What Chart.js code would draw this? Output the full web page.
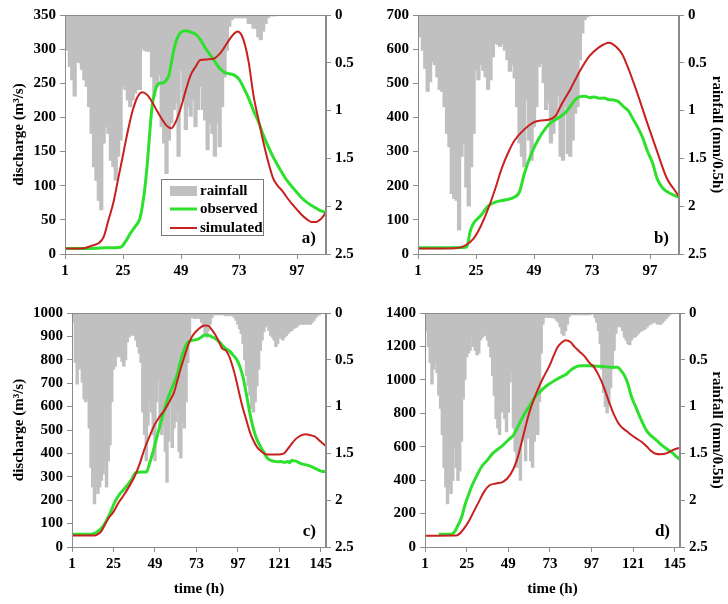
<!DOCTYPE html>
<html>
<head>
<meta charset="utf-8">
<script src="https://cdn.jsdelivr.net/npm/chart.js@4.4.1/dist/chart.umd.min.js"></script>
<style>
body { margin: 0; background: #fff; }
#wrap { position: relative; width: 728px; height: 604px; overflow: hidden; }
canvas { position: absolute; }
</style>
</head>
<body>
<div id="wrap">
  <canvas id="chartA" width="364" height="300" style="left:0;top:0"></canvas>
  <canvas id="chartB" width="364" height="300" style="left:364px;top:0"></canvas>
  <canvas id="chartC" width="364" height="304" style="left:0;top:300px"></canvas>
  <canvas id="chartD" width="364" height="304" style="left:364px;top:300px"></canvas>
</div>
<script>
// tick labels
var timeTicksAB = [1, 25, 49, 73, 97];
var timeTicksCD = [1, 25, 49, 73, 97, 121, 145];
var rainTicks = [0, 0.5, 1, 1.5, 2, 2.5];

// hourly rainfall (mm/0.5h), starting at hour 1
var rainA = [0.12,0.37,0.54,0.68,0.85,0.49,0.5,0.57,0.68,0.75,0.96,1.24,1.59,1.73,1.94,2.04,1.34,1.17,1.24,1.52,
  1.59,1.73,1.48,1.31,0.75,0.78,0.89,0.96,0.89,0.82,0.78,0.78,0.35,0.37,0.38,0.38,0.65,0.85,0.75,0.63,
  1.17,1.34,1.66,1.31,1.13,0.99,0.92,1.48,0.58,0.89,1.2,0.96,1.06,0.89,1.17,0.99,0.75,0.99,1.1,1.41,
  1.13,1.24,1.48,1.13,1.38,0.96,0.65,0.37,0.12,0.05,0.03,0.03,0.03,0.03,0.03,0.03,0.09,0.09,0.14,0.14,
  0.23,0.26,0.17,0.09,0.03,0.01,0.01,0.01];
var rainB = [0.12,0.23,0.37,0.56,0.8,0.7,0.49,0.52,0.65,0.78,0.8,0.96,1.24,1.38,1.87,1.92,1.94,2.25,1.48,1.34,
  1.8,2.0,1.59,1.24,0.58,0.68,0.52,0.58,0.65,0.78,0.68,0.44,0.3,0.31,0.33,0.3,0.37,0.47,0.59,0.52,
  0.66,0.96,1.34,1.48,1.59,0.89,1.31,1.52,1.17,0.96,0.54,0.51,0.71,0.99,0.92,1.34,1.24,1.1,0.85,1.48,
  1.52,0.96,1.45,1.48,1.31,1.03,0.96,0.47,0.19,0.05,0.02,0.01];
var rainC = [0.1,0.1,0.53,0.76,0.6,0.59,0.74,0.92,0.95,0.92,1.23,1.65,1.86,2.04,1.86,1.93,1.86,1.79,1.72,1.65,
  1.86,1.58,1.41,0.95,0.6,0.57,0.47,0.45,0.47,0.52,0.57,0.5,0.31,0.26,0.24,0.22,0.24,0.29,0.36,0.43,
  0.53,1.06,1.3,1.58,1.2,0.95,1.06,1.3,1.58,0.95,0.71,1.23,1.3,1.2,1.48,1.81,1.37,0.95,1.44,1.23,
  1.16,1.06,1.48,1.55,1.16,1.23,0.95,0.53,0.26,0.05,0.04,0.06,0.06,0.05,0.06,0.1,0.15,0.22,0.26,0.19,
  0.12,0.05,0.02,0.02,0.02,0.02,0.02,0.02,0.01,0.03,0.03,0.03,0.03,0.03,0.05,0.08,0.12,0.17,0.22,0.33,
  0.5,0.67,0.78,0.88,1.02,1.06,0.95,0.78,0.6,0.4,0.29,0.2,0.15,0.13,0.19,0.24,0.26,0.29,0.36,0.33,
  0.26,0.27,0.29,0.26,0.24,0.22,0.2,0.19,0.17,0.16,0.15,0.13,0.12,0.12,0.12,0.12,0.12,0.12,0.12,0.1,
  0.08,0.05,0.03,0.02];
var rainD = [0.1,0.19,0.36,0.53,0.76,0.6,0.53,0.64,0.88,1.02,1.3,1.65,1.86,2.04,1.86,1.93,1.79,1.44,1.65,1.79,
  1.69,1.37,0.92,0.71,0.47,0.43,0.4,0.26,0.36,0.4,0.45,0.43,0.29,0.26,0.22,0.24,0.29,0.36,0.47,0.67,
  0.88,1.13,1.23,1.3,1.06,0.95,1.13,1.27,1.06,0.74,0.64,1.23,1.48,1.65,1.48,1.79,1.37,1.3,1.58,1.34,
  1.23,1.58,1.65,1.37,1.16,1.3,0.95,0.43,0.12,0.05,0.03,0.05,0.05,0.05,0.05,0.06,0.08,0.1,0.15,0.22,
  0.24,0.19,0.12,0.04,0.02,0.02,0.02,0.02,0.02,0.02,0.02,0.02,0.02,0.02,0.02,0.02,0.01,0.01,0.05,0.1,
  0.19,0.33,0.6,0.85,1.0,1.07,0.98,0.8,0.6,0.4,0.22,0.15,0.13,0.15,0.19,0.26,0.29,0.33,0.34,0.29,
  0.26,0.26,0.24,0.22,0.2,0.19,0.18,0.17,0.15,0.13,0.12,0.11,0.1,0.1,0.12,0.12,0.12,0.1,0.08,0.06,
  0.04,0.02,0.01];

// discharge (m3/s) as [hour, value]
var obsA = [[1,8],[10,8],[18,9],[24,10],[26,18],[28,30],[30,40],[32,52],[33,70],[34,95],[35,130],[36,175],
  [37,215],[38,235],[39,246],[40,250],[42,251],[43,255],[44,262],[45,280],[46,298],[47,312],[48,320],[49,325],
  [51,327],[53,325],[55,322],[57,314],[59,302],[61,292],[63,282],[65,272],[67,266],[69,264],[71,262],[73,256],
  [75,243],[77,228],[79,210],[81,194],[83,175],[85,158],[87,143],[89,130],[91,118],[93,107],[95,98],[97,90],
  [99,82],[101,76],[103,71],[105,67],[107,63],[109,61]];
var simA = [[1,8],[8,8],[12,12],[15,16],[17,25],[19,50],[21,75],[23,110],[25,145],[27,180],[29,210],[31,230],
  [33,237],[35,233],[37,223],[39,210],[41,198],[43,188],[45,184],[47,195],[49,215],[51,240],[53,262],[55,274],
  [57,284],[60,285],[63,287],[65,293],[67,303],[69,314],[71,323],[72.5,326],[74,321],[75.5,306],[77,281],
  [79,232],[81,198],[83,165],[85,136],[87,112],[89,100],[91,92],[93,82],[95,73],[97,65],[99,57],[101,51],
  [103,47],[105,47],[106.5,50],[108,56],[109,61]];
var obsB = [[1,18],[21,20],[21.8,35],[22.5,64],[24,90],[27,113],[30,140],[33,152],[37,158],[41,167],[43,182],
  [45,235],[48,295],[51,338],[54,370],[56,385],[59,398],[62,414],[64,432],[66,452],[68,461],[70,462],[72,458],
  [74,460],[76,456],[78,457],[80,452],[82,451],[84,446],[86,432],[88,420],[90,395],[92,370],[94,340],[96,300],
  [98,268],[100,220],[102,195],[104,183],[106,175],[108,169],[109,166]];
var simB = [[1,16],[16,17],[19,20],[21,27],[24,45],[27,82],[30,132],[33,192],[35.6,250],[38.4,298],[41,333],
  [45,365],[49,386],[52,391],[55,393],[58,405],[60,433],[64,482],[68,536],[72,580],[76,606],[80,619],[83,607],
  [85.5,585],[87.5,553],[91.6,474],[95.7,387],[100,299],[104,221],[106.8,191],[109,168]];
var obsC = [[1,55],[12,55],[15,62],[18,80],[20,100],[23,144],[26,195],[29,230],[32,255],[35,283],[38,318],
  [41,320],[44,320],[46,360],[48,410],[50,465],[52,522],[54,575],[56,625],[58,665],[60,700],[62,740],[64,800],
  [66,845],[68,875],[70,882],[72,885],[74,888],[76,898],[78,906],[80,905],[82,898],[84,890],[86,878],[88,862],
  [90,848],[92,838],[94,822],[96,805],[98,775],[100,725],[102,650],[104,570],[106,505],[108,460],[110,430],
  [112,405],[114,380],[116,370],[118,366],[120,364],[122,365],[124,362],[126,365],[127,360],[128,370],[130,368],
  [132,362],[134,355],[136,352],[138,348],[140,342],[142,335],[144,328],[146,323],[148,322]];
var simC = [[1,49],[14,49],[16,55],[18,68],[20,95],[22,122],[25,150],[28,190],[31,222],[34,258],[37,298],
  [40,352],[43,420],[46,475],[49,525],[52,560],[55,590],[58,630],[60,660],[62,712],[64,765],[66,812],[68,858],
  [70,893],[72,915],[74,930],[76,942],[78,947],[80,945],[82,928],[84,906],[86,878],[88,848],[90,840],[92,815],
  [94,770],[96,715],[98,650],[100,590],[102,540],[104,490],[106,455],[108,428],[110,412],[112,400],[114,395],
  [118,395],[122,396],[124,402],[126,420],[128,440],[130,458],[132,470],[134,478],[136,482],[138,480],[140,476],
  [142,470],[144,456],[146,443],[148,432]];
var obsD = [[9,76],[16,76],[18,90],[20,130],[22,175],[24,250],[26,310],[28,365],[31,430],[34,486],[37,520],
  [40,560],[43,585],[46,610],[49,640],[52,670],[55,730],[58,790],[61,840],[63,875],[65,905],[67,925],[70,955],
  [73,978],[76,998],[79,1015],[82,1030],[85,1058],[88,1078],[91,1084],[95,1084],[100,1082],[104,1080],
  [108,1075],[112,1075],[114,1055],[116,1025],[118,975],[120,900],[122,850],[125,775],[127,730],[129,692],
  [132,660],[135,633],[138,605],[141,582],[144,560],[146,540],[148,525]];
var simD = [[1,68],[19,69],[21,80],[23,104],[26,150],[29,210],[32,270],[35,330],[38,368],[42,380],[46,390],
  [50,430],[54,520],[57.5,660],[61,800],[64,890],[67,966],[70,1030],[73,1090],[75,1140],[77.4,1195],[80,1225],
  [82.2,1237],[85,1225],[87,1200],[90,1170],[93,1140],[96,1100],[98.5,1075],[101,1030],[104,960],[107,870],
  [110,790],[112,750],[114,720],[117,695],[120,670],[123,648],[126,628],[129,600],[131,578],[134,558],[137,555],
  [140,560],[142,570],[145,585],[148,594]];

var FONT = '"Liberation Serif", "Times New Roman", serif';
var AXIS_GREY = '#8c8c8c';

function toPoints(pairs) {
    return pairs.map(function (p) { return { x: p[0], y: p[1] }; });
}

function rainPoints(values) {
    return values.map(function (v, i) { return { x: i + 1, y: v }; });
}

// frame round the plot area + the panel letter (and the legend in panel a)
var panelDecor = {
    id: 'panelDecor',
    afterDatasetsDraw: function (chart) {
        var a = chart.chartArea, ctx = chart.ctx;
        ctx.save();
        ctx.strokeStyle = AXIS_GREY;
        ctx.lineWidth = 1;
        ctx.strokeRect(a.left + 0.5, a.top + 0.5, a.right - a.left - 1, a.bottom - a.top);
        ctx.restore();
    },
    afterDraw: function (chart, args, opts) {
        var a = chart.chartArea, ctx = chart.ctx;
        ctx.save();
        ctx.fillStyle = '#000';
        ctx.font = 'bold 17px ' + FONT;
        ctx.textAlign = 'right';
        ctx.textBaseline = 'middle';
        ctx.fillText(opts.letter, a.right - 10, a.bottom - 15);
        if (opts.legend) {
            var lx = opts.legend.x, ly = opts.legend.y;
            ctx.fillStyle = '#fff';
            ctx.fillRect(lx, ly, 102, 56);
            ctx.strokeStyle = '#7a7a7a';
            ctx.strokeRect(lx + 0.5, ly + 0.5, 102, 56);
            ctx.fillStyle = '#c0c0c0';
            ctx.fillRect(lx + 9, ly + 7, 27, 10);
            ctx.lineWidth = 3;
            ctx.strokeStyle = '#2ee02e';
            ctx.beginPath(); ctx.moveTo(lx + 9, ly + 30); ctx.lineTo(lx + 36, ly + 30); ctx.stroke();
            ctx.lineWidth = 2;
            ctx.strokeStyle = '#c8201e';
            ctx.beginPath(); ctx.moveTo(lx + 9, ly + 49); ctx.lineTo(lx + 36, ly + 49); ctx.stroke();
            ctx.fillStyle = '#000';
            ctx.font = 'bold 15px ' + FONT;
            ctx.textAlign = 'left';
            ctx.fillText('rainfall', lx + 39, ly + 12);
            ctx.fillText('observed', lx + 39, ly + 30);
            ctx.fillText('simulated', lx + 39, ly + 49);
        }
        ctx.restore();
    }
};

function plainLabel(v) { return String(v); }

function makePanel(p) {
    var tickFont = { family: FONT, size: 15, weight: 'bold' };
    var gridOpts = { drawOnChartArea: false, color: AXIS_GREY, tickLength: 5, offset: false };
    var borderOpts = { color: AXIS_GREY };
    return new Chart(document.getElementById(p.id), {
        data: {
            datasets: [
                {
                    type: 'line', label: 'simulated', data: toPoints(p.sim), yAxisID: 'y',
                    borderColor: '#c8201e', borderWidth: 2, pointRadius: 0,
                    cubicInterpolationMode: 'monotone', order: 1
                },
                {
                    type: 'line', label: 'observed', data: toPoints(p.obs), yAxisID: 'y',
                    borderColor: '#2ee02e', borderWidth: 3, pointRadius: 0,
                    cubicInterpolationMode: 'monotone', order: 2
                },
                {
                    type: 'bar', label: 'rainfall', data: rainPoints(p.rain), yAxisID: 'y2',
                    backgroundColor: '#c0c0c0', borderWidth: 0,
                    barThickness: p.barW, order: 3
                }
            ]
        },
        options: {
            responsive: false,
            animation: false,
            layout: { padding: { top: p.top, left: 0, right: 0, bottom: 0 } },
            plugins: {
                legend: { display: false },
                tooltip: { enabled: false },
                panelDecor: { letter: p.letter, legend: p.legend }
            },
            scales: {
                x: {
                    type: 'linear', min: 1, max: p.xMax, offset: false,
                    grid: gridOpts, border: borderOpts,
                    afterBuildTicks: function (s) {
                        s.ticks = p.xTicks.map(function (v) { return { value: v }; });
                    },
                    afterFit: function (s) { s.height = p.bottomH; },
                    ticks: { color: '#000', font: tickFont, padding: 3, maxRotation: 0, autoSkip: false,
                        callback: plainLabel },
                    title: {
                        display: p.xTitle, text: 'time (h)', color: '#000',
                        font: tickFont, padding: { top: 0, bottom: 6 }
                    }
                },
                y: {
                    position: 'left', min: 0, max: p.yMax,
                    grid: gridOpts, border: borderOpts,
                    afterFit: function (s) { s.width = p.leftW; },
                    ticks: { stepSize: p.yStep, color: '#000', font: tickFont, padding: 4, callback: plainLabel },
                    title: {
                        display: p.leftTitle, text: 'discharge (m\u00b3/s)', color: '#000',
                        font: tickFont, padding: { top: 10, bottom: 0 }
                    }
                },
                y2: {
                    position: 'right', min: 0, max: 2.5, reverse: true,
                    grid: gridOpts, border: borderOpts,
                    afterBuildTicks: function (s) {
                        s.ticks = rainTicks.map(function (v) { return { value: v }; });
                    },
                    afterFit: function (s) { s.width = p.rightW; },
                    ticks: { color: '#000', font: tickFont, padding: 4, callback: plainLabel },
                    title: {
                        display: p.rightTitle, text: 'rainfall (mm/0.5h)', color: '#000',
                        font: tickFont, padding: { top: 2, bottom: 0 }
                    }
                }
            }
        },
        plugins: [panelDecor]
    });
}

makePanel({ id: 'chartA', rain: rainA, obs: obsA, sim: simA, xMax: 109, xTicks: timeTicksAB,
    yMax: 350, yStep: 50, letter: 'a)', top: 15, bottomH: 46, leftW: 65, rightW: 38, barW: 3.6,
    leftTitle: true, rightTitle: false, xTitle: false, legend: { x: 161, y: 179 } });
makePanel({ id: 'chartB', rain: rainB, obs: obsB, sim: simB, xMax: 109, xTicks: timeTicksAB,
    yMax: 700, yStep: 100, letter: 'b)', top: 15, bottomH: 46, leftW: 54, rightW: 49, barW: 3.6,
    leftTitle: false, rightTitle: true, xTitle: false });
makePanel({ id: 'chartC', rain: rainC, obs: obsC, sim: simC, xMax: 148, xTicks: timeTicksCD,
    yMax: 1000, yStep: 100, letter: 'c)', top: 9, bottomH: 57, leftW: 72, rightW: 38, barW: 2.8,
    leftTitle: true, rightTitle: false, xTitle: true });
makePanel({ id: 'chartD', rain: rainD, obs: obsD, sim: simD, xMax: 148, xTicks: timeTicksCD,
    yMax: 1400, yStep: 200, letter: 'd)', top: 9, bottomH: 57, leftW: 61, rightW: 48, barW: 2.8,
    leftTitle: false, rightTitle: true, xTitle: true });
</script>
</body>
</html>
